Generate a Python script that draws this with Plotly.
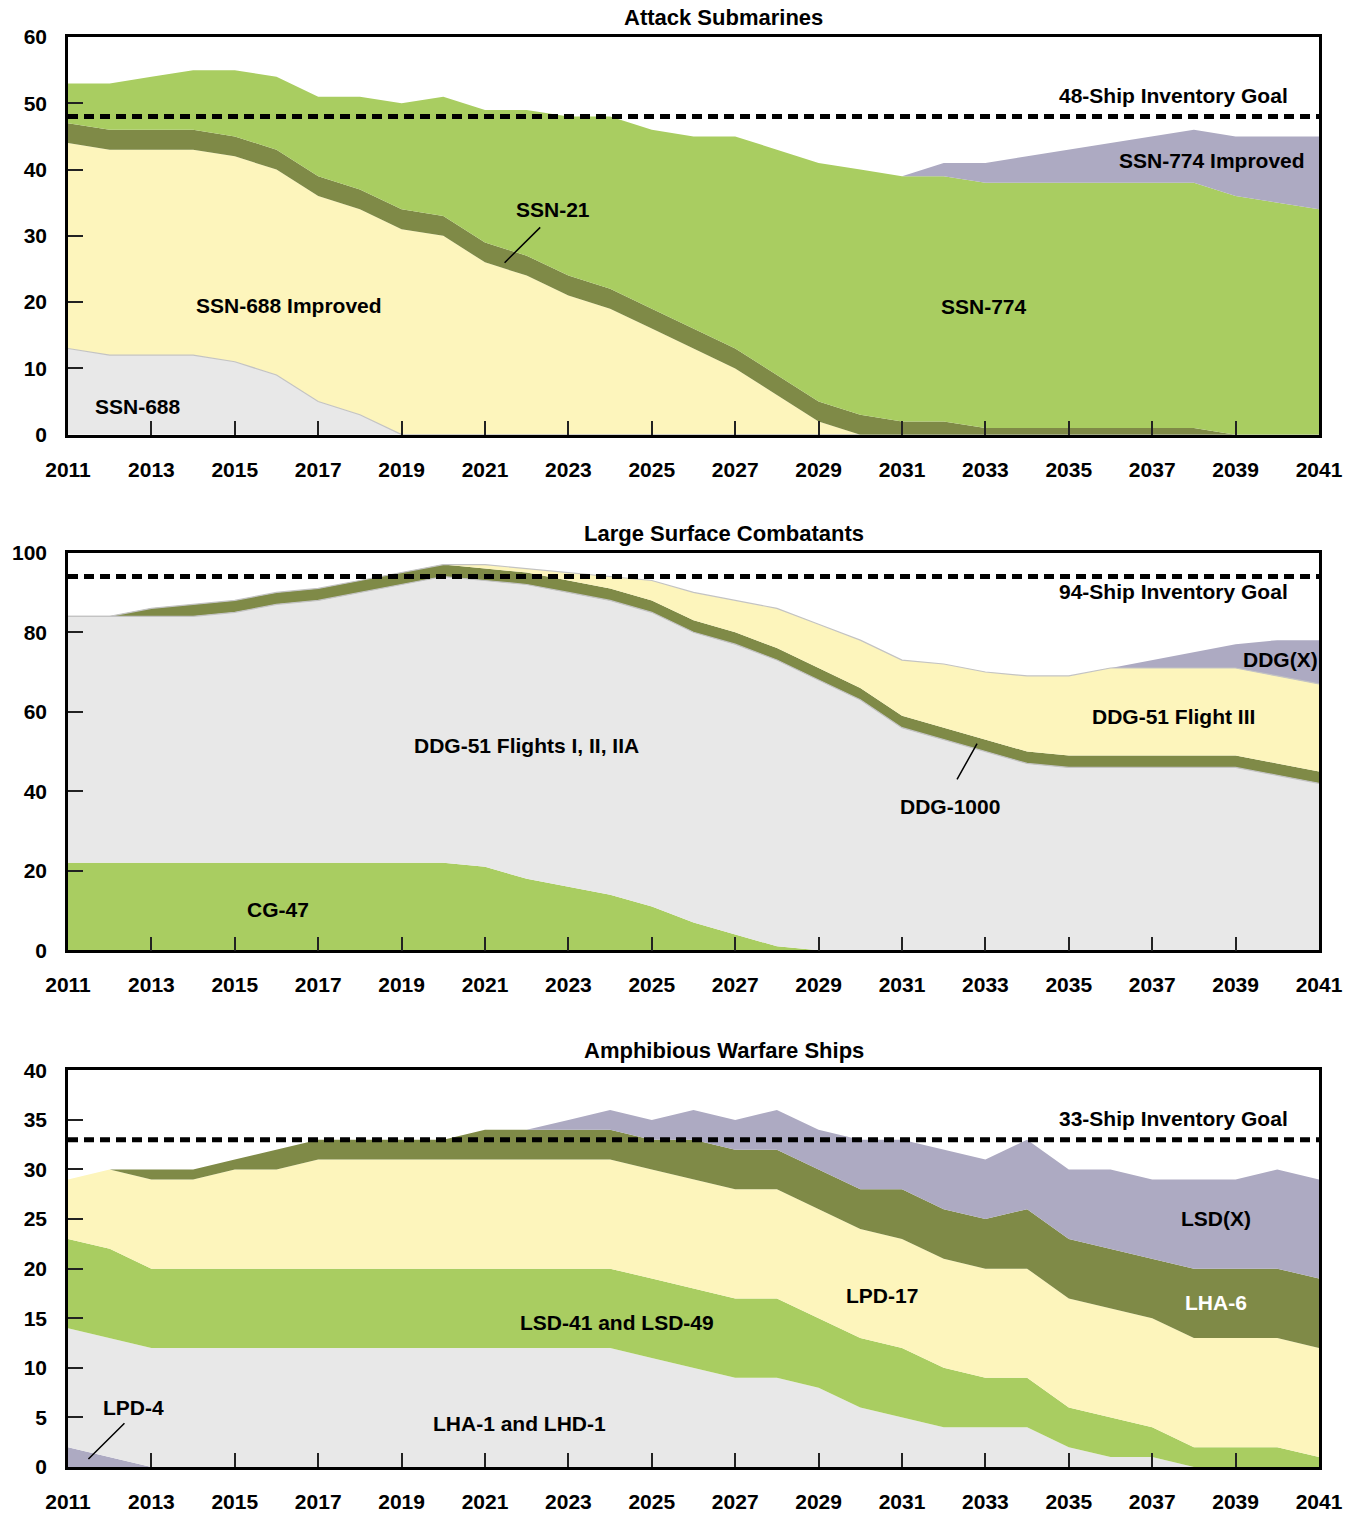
import plotly.graph_objects as go

years = list(range(2011, 2042))
xticks = list(range(2011, 2042, 2))

# ---------------- Attack Submarines ----------------
ssn688 = [13, 12, 12, 12, 11, 9, 5, 3] + [0] * 23
ssn688i = [31] * 9 + [30, 26, 24, 21, 19, 16, 13, 10, 6, 2, 0] + [0] * 11
ssn21 = [3] * 20 + [2, 2] + [1] * 6 + [0] * 3
ssn774 = [6, 7, 8, 9, 10, 11, 12, 14, 16, 18, 20, 22, 24, 26, 27, 29, 32, 34, 36, 37,
          37, 37, 37, 37, 37, 37, 37, 37, 36, 35, 34]
ssn774i = [0] * 21 + [2, 3, 4, 5, 6, 7, 8, 9, 10, 11]
sub_goal = 48

# ---------------- Large Surface Combatants ----------------
cg47 = [22] * 10 + [21, 18, 16, 14, 11, 7, 4, 1] + [0] * 13
ddg51 = [62, 62, 62, 62, 63, 65, 66, 68, 70, 72,
         72, 74, 74, 74, 74, 73, 73, 72, 68, 63, 56, 53, 50, 47, 46, 46, 46, 46, 46, 44, 42]
ddg1000 = [0, 0, 2] + [3] * 28
ddg51f3 = [0] * 10 + [1, 1, 2, 3, 5, 7, 8, 10, 11, 12, 14, 16, 17, 19, 20, 22, 22, 22, 22, 22, 22]
ddgx = [0] * 26 + [2, 4, 6, 9, 11]
lsc_goal = 94

# ---------------- Amphibious Warfare Ships ----------------
lpd4 = [2, 1] + [0] * 29
lha1 = [12] * 14 + [11, 10, 9, 9, 8, 6, 5, 4, 4, 4, 2, 1, 1, 0, 0, 0, 0]
lsd41 = [9, 9] + [8] * 16 + [7, 7, 7, 6, 5, 5, 4, 4, 3, 2, 2, 2, 1]
lpd17 = [6, 8, 9, 9, 10, 10] + [11] * 25
lha6 = [0, 0, 1, 1, 1, 2, 2, 2, 2, 2, 3, 3, 3, 3, 3, 4, 4, 4, 4, 4, 5, 5, 5, 6, 6, 6, 6, 7, 7, 7, 7]
lsdx = [0] * 12 + [1, 2, 2, 3, 3, 4, 4, 5, 5, 6, 6, 7, 7, 8, 8, 9, 9, 10, 10]
amph_goal = 33

GREEN = "#A9CD61"
OLIVE = "#7F8A47"
YELLOW = "#FDF5BC"
GRAY = "#E8E8E8"
PURPLE = "#ADAAC2"
EDGE = "#C3C3C3"

FONT = "Liberation Sans, Arial, sans-serif"

fig = go.Figure()


def add_area(name, vals, color, ax, group, edge=None):
    fig.add_trace(go.Scatter(
        x=years, y=vals, name=name, mode="lines",
        stackgroup=group, fillcolor=color,
        line=dict(width=1.2 if edge else 0, color=edge if edge else color),
        xaxis="x" + ax, yaxis="y" + ax, showlegend=False, hoverinfo="skip",
    ))


add_area("SSN-688", ssn688, GRAY, "", "a", EDGE)
add_area("SSN-688 Improved", ssn688i, YELLOW, "", "a")
add_area("SSN-21", ssn21, OLIVE, "", "a")
add_area("SSN-774", ssn774, GREEN, "", "a")
add_area("SSN-774 Improved", ssn774i, PURPLE, "", "a")

add_area("CG-47", cg47, GREEN, "2", "b")
add_area("DDG-51 Flights I, II, IIA", ddg51, GRAY, "2", "b", EDGE)
add_area("DDG-1000", ddg1000, OLIVE, "2", "b")
add_area("DDG-51 Flight III", ddg51f3, YELLOW, "2", "b", EDGE)
add_area("DDG(X)", ddgx, PURPLE, "2", "b")

add_area("LPD-4", lpd4, PURPLE, "3", "c")
add_area("LHA-1 and LHD-1", lha1, GRAY, "3", "c")
add_area("LSD-41 and LSD-49", lsd41, GREEN, "3", "c")
add_area("LPD-17", lpd17, YELLOW, "3", "c")
add_area("LHA-6", lha6, OLIVE, "3", "c")
add_area("LSD(X)", lsdx, PURPLE, "3", "c")

# goal lines
for ax, g in (("", sub_goal), ("2", lsc_goal), ("3", amph_goal)):
    fig.add_trace(go.Scatter(
        x=[years[0], years[-1]], y=[g, g], mode="lines",
        line=dict(color="black", width=5, dash="10px,6px"),
        xaxis="x" + ax, yaxis="y" + ax, showlegend=False, hoverinfo="skip",
    ))

W, H = 1355, 1525
ml, mr, mt, mb = 67, 36, 37, 46
ph = H - mt - mb


def dom(top_px, bot_px):
    return [(H - mb - bot_px) / ph, (H - mb - top_px) / ph]


tickfont = dict(family=FONT, size=21, color="black", weight="bold")
xcommon = dict(range=[2011, 2041], tickvals=xticks, ticks="inside", ticklen=14,
               tickwidth=1.5, tickcolor="#222", showline=True, linewidth=2.5,
               linecolor="black", mirror=True, showgrid=False, zeroline=False,
               tickfont=tickfont, ticklabelstandoff=14)
ycommon = dict(ticks="inside", ticklen=15, tickwidth=1.5, tickcolor="#222",
               showline=True, linewidth=2.5, linecolor="black", mirror=True,
               showgrid=False, zeroline=False, tickfont=tickfont, ticklabelstandoff=14)

fig.update_layout(
    width=W, height=H,
    margin=dict(l=ml, r=mr, t=mt, b=mb),
    paper_bgcolor="white", plot_bgcolor="white",
    font=dict(family=FONT, color="black"),
    xaxis=dict(**xcommon, anchor="y"),
    yaxis=dict(**ycommon, range=[0, 60], dtick=10, domain=dom(37, 438), anchor="x"),
    xaxis2=dict(**xcommon, anchor="y2"),
    yaxis2=dict(**ycommon, range=[0, 100], dtick=20, domain=dom(557, 958), anchor="x2"),
    xaxis3=dict(**xcommon, anchor="y3"),
    yaxis3=dict(**ycommon, range=[0, 40], dtick=5, domain=dom(1079, 1479), anchor="x3"),
)

ann = []
lab = dict(family=FONT, size=21, color="black", weight="bold")

# panel titles
for ax, t in (("", "Attack Submarines"), ("2", "Large Surface Combatants"),
              ("3", "Amphibious Warfare Ships")):
    ann.append(dict(text=t, xref=("x" + ax) + " domain", yref=("y" + ax) + " domain",
                    x=0.524, y=1, xanchor="center", yanchor="bottom", yshift=5,
                    showarrow=False, font=dict(family=FONT, size=22, color="black", weight="bold")))


def label(text, x, y, ax="", xanchor="center", color="black"):
    f = dict(lab)
    f["color"] = color
    ann.append(dict(text=text, x=x, y=y, xref="x" + ax, yref="y" + ax,
                    xanchor=xanchor, yanchor="middle", showarrow=False, font=f))


def leader(x, y, tx, ty, ax=""):
    ann.append(dict(text="", x=x, y=y, ax=tx, ay=ty, xref="x" + ax, yref="y" + ax,
                    axref="x" + ax, ayref="y" + ax, showarrow=True, arrowhead=0,
                    arrowwidth=1.5, arrowcolor="black", standoff=0, startstandoff=0))


label("48-Ship Inventory Goal", 2040.31, 51.2, "", "right")
label("SSN-774 Improved", 2038.44, 41.4)
label("SSN-21", 2022.62, 34.0)
label("SSN-688 Improved", 2016.3, 19.5)
label("SSN-774", 2032.97, 19.35)
label("SSN-688", 2012.68, 4.2)
leader(2021.47, 25.95, 2022.36, 31.5)

label("94-Ship Inventory Goal", 2040.31, 90.3, "2", "right")
label("DDG(X)", 2040.07, 73.1, "2")
label("DDG-51 Flight III", 2037.5, 58.85, "2")
label("DDG-51 Flights I, II, IIA", 2022.0, 51.6, "2")
label("DDG-1000", 2032.16, 36.2, "2")
label("CG-47", 2016.03, 10.2, "2")
leader(2032.8, 52.0, 2032.3, 42.6, "2")

label("33-Ship Inventory Goal", 2040.31, 35.1, "3", "right")
label("LSD(X)", 2038.53, 25.1, "3")
label("LHA-6", 2038.53, 16.6, "3", color="white")
label("LPD-17", 2030.53, 17.3, "3")
label("LSD-41 and LSD-49", 2024.16, 14.6, "3")
label("LPD-4", 2012.58, 6.0, "3")
label("LHA-1 and LHD-1", 2021.83, 4.4, "3")
leader(2011.49, 0.8, 2012.39, 4.57, "3")

fig.update_layout(annotations=ann)

fig.write_html("out.html", config={"displayModeBar": False},
               post_script="document.body.style.margin='0';")
